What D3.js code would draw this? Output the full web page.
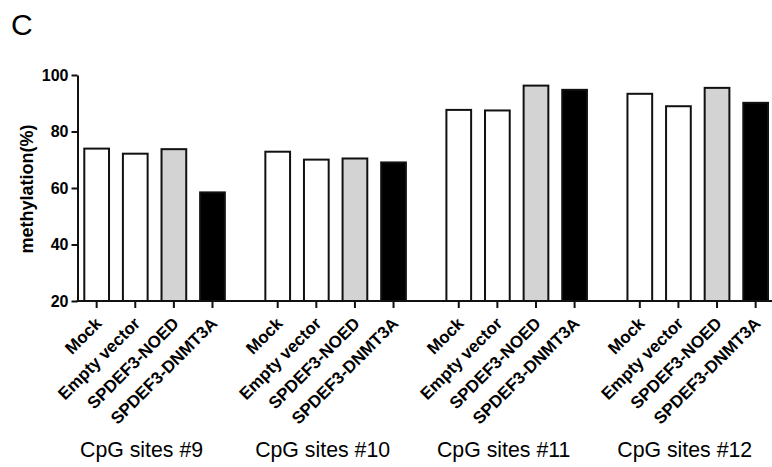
<!DOCTYPE html>
<html>
<head>
<meta charset="utf-8">
<script src="https://cdn.jsdelivr.net/npm/d3@7/dist/d3.min.js"></script>
<style>
  html, body { margin: 0; padding: 0; background: #fff; }
  svg { display: block; }
  text { font-family: "Liberation Sans", Arial, Helvetica, sans-serif; fill: #000; }
</style>
</head>
<body>
<svg id="chart" width="772" height="467"></svg>
<script>
// CpG sites and transfection conditions
const sites = ["CpG sites #9", "CpG sites #10", "CpG sites #11", "CpG sites #12"];
const conditions = ["Mock", "Empty vector", "SPDEF3-NOED", "SPDEF3-DNMT3A"];

// methylation (%) per condition, one array per site
const site9  = [74.3, 72.5, 74.1, 58.8];
const site10 = [73.2, 70.4, 70.8, 69.4];
const site11 = [88.0, 87.8, 96.6, 95.1];
const site12 = [93.7, 89.3, 95.8, 90.5];
const siteValues = [site9, site10, site11, site12];

const yTicks = [20, 40, 60, 80, 100];
const fills = ["#ffffff", "#ffffff", "#d3d3d3", "#000000"];

const svg = d3.select("#chart");
const axisX = 77.5;
const baseY = 301;

const y = d3.scaleLinear().domain([20, 100]).range([baseY, 75]);

const outer = d3.scaleBand()
  .domain(sites)
  .range([83.3, 769])
  .paddingInner(0.2127)
  .paddingOuter(0);

const inner = d3.scaleBand()
  .domain(conditions)
  .range([0, outer.bandwidth()])
  .paddingInner(0.308)
  .paddingOuter(0);

// panel letter
svg.append("text")
  .attr("x", 11)
  .attr("y", 35)
  .style("font-size", "30px")
  .text("C");

// bars
const rows = [];
sites.forEach((s, i) => {
  conditions.forEach((c, j) => rows.push({ site: s, cond: c, value: siteValues[i][j], fill: fills[j] }));
});

const sw = 2;
svg.append("g")
  .selectAll("rect")
  .data(rows)
  .join("rect")
  .attr("x", d => outer(d.site) + inner(d.cond) + sw / 2)
  .attr("width", inner.bandwidth() - sw)
  .attr("y", d => y(d.value) + sw / 2)
  .attr("height", d => baseY - y(d.value) - sw / 2)
  .attr("fill", d => d.fill)
  .attr("stroke", "#111")
  .attr("stroke-width", sw);

// y axis
const yAxis = svg.append("g")
  .attr("transform", `translate(${axisX},0)`)
  .call(d3.axisLeft(y).tickValues(yTicks).tickSize(6).tickPadding(3).tickSizeOuter(0));
yAxis.select(".domain").attr("stroke", "#111").attr("stroke-width", 2);
yAxis.selectAll(".tick line").attr("stroke", "#111").attr("stroke-width", 2);
yAxis.selectAll(".tick text")
  .style("font-size", "16px")
  .style("font-weight", "bold")
  .style("font-family", "'Liberation Sans', Arial, sans-serif");

// y axis title
svg.append("text")
  .attr("transform", "translate(33,189) rotate(-90)")
  .attr("text-anchor", "middle")
  .style("font-size", "18px")
  .style("font-weight", "bold")
  .text("methylation(%)");

// x axis baseline
svg.append("line")
  .attr("x1", axisX - 1)
  .attr("x2", 772)
  .attr("y1", baseY)
  .attr("y2", baseY)
  .attr("stroke", "#111")
  .attr("stroke-width", 2);

// x ticks and rotated condition labels for each site
sites.forEach(s => {
  const g = svg.append("g")
    .attr("transform", `translate(${outer(s)},${baseY})`)
    .call(d3.axisBottom(inner).tickSize(7).tickSizeOuter(0));
  g.select(".domain").remove();
  g.selectAll(".tick line").attr("stroke", "#111").attr("stroke-width", 2);
  g.selectAll(".tick text")
    .attr("text-anchor", "end")
    .attr("x", 0)
    .attr("y", 0)
    .attr("dy", 0)
    .attr("transform", "translate(6,23.5) rotate(-45)")
    .style("font-size", "17px")
    .style("font-weight", "bold")
    .style("font-family", "'Liberation Sans', Arial, sans-serif");

  svg.append("text")
    .attr("x", outer(s) + outer.bandwidth() / 2 - 13)
    .attr("y", 457)
    .attr("text-anchor", "middle")
    .style("font-size", "21.3px")
    .text(s);
});
</script>
</body>
</html>
